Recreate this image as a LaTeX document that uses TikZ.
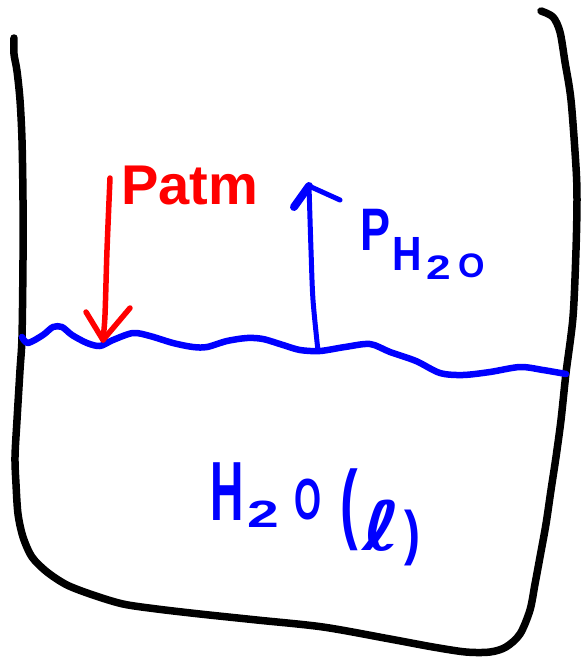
\documentclass[tikz,border=0pt]{standalone}
\usepackage{graphicx}
\usepackage{fontspec}
\setmainfont{Liberation Sans}
\newfontfamily\dejavu{DejaVu Sans}
\begin{document}
\begin{tikzpicture}[x=1pt,y=-1pt,
  outline/.style={line width=7.5pt, line cap=round, line join=round, black},
  water/.style={line width=6.5pt, blue, line cap=round, line join=round},
  redarrow/.style={line width=5.5pt, red, line cap=round, line join=round},
  bluearrow/.style={line width=5pt, blue, line cap=round, line join=round},
  lbl/.style={inner sep=0pt, anchor=base west, font=\bfseries},
  redtxt/.style={lbl, text=red},
  bluetxt/.style={lbl, text=blue}]
\useasboundingbox (0,0) rectangle (583,657);
% beaker outline
\draw[outline] plot[smooth, tension=0.5] coordinates {
 (14,38) (14,54) (17,71) (20,100) (22,140) (23,200) (23,260) (22,337) (20,370)
 (17,420) (15,457) (16,484) (18,514) (23,537) (32,557) (47,572) (67,585)
 (93,595) (123,604) (157,609) (200,614) (257,620) (323,627) (390,639)
 (433,647) (466,652) (490,652) (506,647) (520,634) (530,610) (535,584)
 (540,557) (546,524) (551,490) (556,457) (561,420) (566,373) (573,317)
 (576,250) (577,200) (576,167) (571,100) (565,62) (560,32) (553,17) (541,11)};
% water surface
\draw[water] plot[smooth, tension=0.5] coordinates {
 (22,337) (28,343) (43,335) (53,327) (62,327) (72,335) (87,343) (100,346)
 (113,340) (133,333) (150,336) (173,343) (193,347) (207,347) (227,341)
 (247,338) (263,339) (283,345) (300,350) (320,351) (345,347) (370,344)
 (390,352) (416,361) (440,373) (463,375) (490,372) (520,367) (543,370) (566,374)};
% atmospheric pressure arrow
\coordinate (rtop) at (110,178);
\coordinate (rtip) at (103,340);
\draw[redarrow] plot[smooth] coordinates {(rtop) (107,250) (105,315) (rtip)};
\draw[redarrow] (86,312) -- (rtip) -- (130,308);
\node[redtxt] (patm) at (121,204) {\fontsize{56pt}{56pt}\selectfont Patm};
% vapour pressure arrow
\coordinate (bbot) at (318,351);
\coordinate (btip) at (309,186);
\draw[bluearrow] plot[smooth] coordinates {(bbot) (313,300) (311,250) (btip)};
\draw[bluearrow] (btip) -- (340,200);
\draw[bluearrow, line width=8pt] (294,207) -- (btip);
\node[bluetxt] (ph) at (360,250) {\fontsize{60pt}{60pt}\selectfont\scalebox{0.75}[1]{P}};
\node[bluetxt] (phh) at (392,270) {\fontsize{48pt}{48pt}\selectfont\scalebox{0.85}[1]{H}};
\node[bluetxt] (ph2) at (426,279) {\fontsize{34pt}{34pt}\selectfont\scalebox{1.3}[1]{2}};
\node[bluetxt] (pho) at (458,277) {\fontsize{34pt}{34pt}\selectfont O};
% liquid label
\node[bluetxt] (lh) at (210,520) {\fontsize{84pt}{84pt}\selectfont\scalebox{0.55}[1]{H}};
\node[bluetxt] (l2) at (247,527) {\fontsize{38pt}{38pt}\selectfont\scalebox{1.5}[1]{2}};
\node[bluetxt] (lo) at (294,519) {\fontsize{58pt}{58pt}\selectfont\scalebox{0.6}[1]{O}};
\node[bluetxt] (lp1) at (340,532) {\fontsize{88pt}{88pt}\selectfont\scalebox{0.6}[1]{(}};
\node[bluetxt] (ll) at (362,550) {\fontsize{68pt}{68pt}\selectfont\dejavu\scalebox{1.2}[1]{ℓ}};
\node[bluetxt] (lp2) at (404,553) {\fontsize{60pt}{60pt}\selectfont\scalebox{0.8}[1]{)}};
\end{tikzpicture}
\end{document}
